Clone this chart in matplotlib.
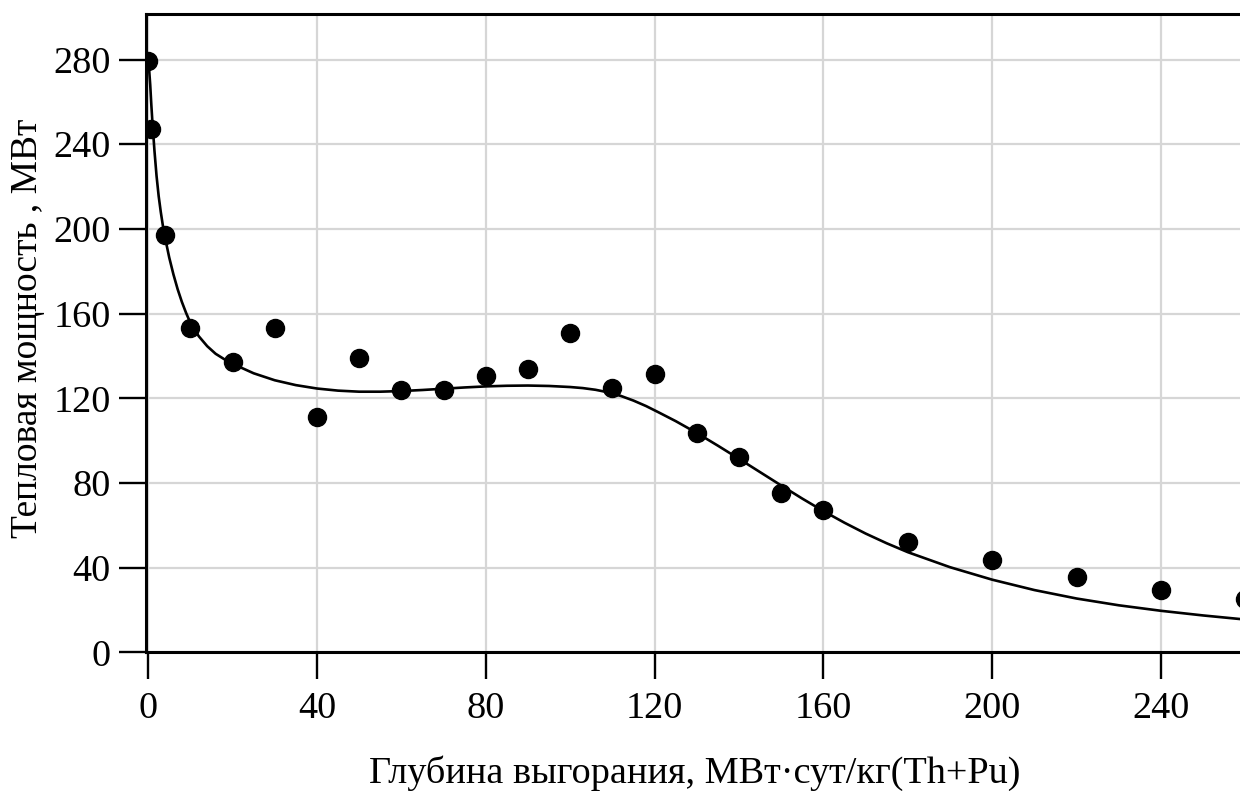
import matplotlib
matplotlib.use("Agg")
import matplotlib.pyplot as plt

# Measured points
burnup = [0, 0.8, 4, 10, 20, 30, 40, 50, 60, 70, 80, 90, 100, 110, 120,
          130, 140, 150, 160, 180, 200, 220, 240, 260]
power = [279.5, 247, 197, 153, 137.3, 153, 111, 138.9, 123.9, 124, 130.6, 133.8,
         151, 124.7, 131.5, 103.4, 92.4, 75.1, 67.2, 52, 43.6, 35.7, 29.4, 25]

# Fitted curve
curve_x = [0, 0.25, 0.5, 0.75, 1, 1.5, 2, 2.5, 3, 3.5, 4, 5, 6, 7, 8, 9, 10, 12, 14, 16,
           18, 20, 25, 30, 35, 40, 45, 50, 55, 60, 65, 70, 75, 80, 85, 90, 95, 100,
           103, 106, 109, 112, 115, 118, 121, 125, 130, 135, 140, 145, 150, 155, 160,
           165, 170, 175, 180, 190, 200, 210, 220, 230, 240, 250, 259.3]
curve_y = [282, 275, 268, 259, 251, 237, 225, 215.5, 208, 201.5, 196, 186.5, 178.5,
           171.5, 165.5, 160.3, 155.7, 149.3, 144.6, 141, 138.5, 136.3, 131.8, 128.5,
           126.2, 124.6, 123.6, 123.1, 123.1, 123.4, 123.9, 124.5, 125.1, 125.6, 125.9,
           126, 125.8, 125.3, 124.8, 124, 122.8, 121.1, 118.9, 116.3, 113.3, 109.2,
           103.6, 97.6, 91.4, 85.1, 78.8, 72.6, 66.7, 61.2, 56.1, 51.5, 47.3, 40.2,
           34.3, 29.4, 25.4, 22.2, 19.6, 17.4, 15.6]

xticks = [0, 40, 80, 120, 160, 200, 240]
yticks = [0, 40, 80, 120, 160, 200, 240, 280]

plt.rcParams['font.family'] = ['Liberation Serif', 'DejaVu Serif']
FS = 27.5

fig = plt.figure(figsize=(12.4, 7.91), dpi=100)
ax = fig.add_axes([146 / 1240, 1 - 652.3 / 791, 1 - 146 / 1240 + 0.002, (652.3 - 14) / 791])

ax.plot(curve_x, curve_y, color='black', lw=1.9, zorder=3,
        solid_capstyle='round', solid_joinstyle='round')
ax.plot(burnup, power, 'o', color='black', markersize=13, zorder=4)

ax.set_xlim(-0.5, 259.3)
ax.set_ylim(0, 301.5)
ax.set_xticks(xticks)
ax.set_yticks(yticks)
ax.grid(True, color='#d6d6d6', lw=1.6, zorder=0)
ax.set_axisbelow(True)

for s in ['left', 'top', 'bottom']:
    ax.spines[s].set_linewidth(2.2)
    ax.spines[s].set_color('black')
ax.spines['right'].set_visible(False)

ax.tick_params(axis='both', direction='out', length=19.5, width=1.7, labelsize=FS, colors='black')
ax.tick_params(axis='x', pad=9)
ax.tick_params(axis='y', pad=6)

ax.set_xlabel('Глубина выгорания, МВт·сут/кг(Th+Pu)', fontsize=27.5)
ax.set_ylabel('Тепловая мощность , МВт', fontsize=27)
ax.xaxis.set_label_coords(0.5, -0.162)
ax.yaxis.set_label_coords(-0.092, 0.507)

fig.savefig('out.png', dpi=100)
